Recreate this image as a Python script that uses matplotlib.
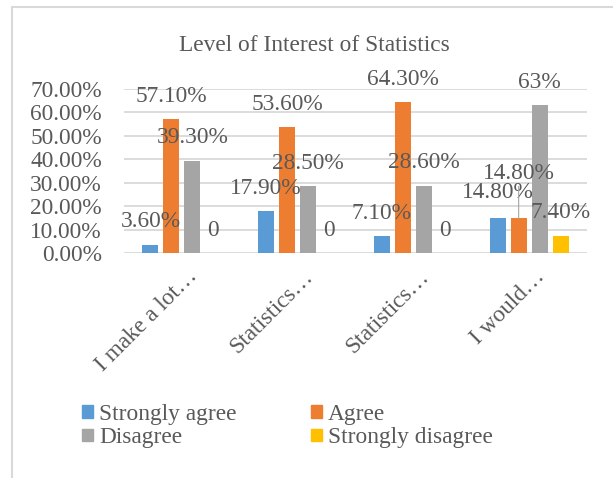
import numpy as np
import matplotlib
matplotlib.use('Agg')
from matplotlib import pyplot as plt
from matplotlib.lines import Line2D
from matplotlib.patches import Patch
from matplotlib.ticker import FuncFormatter
from matplotlib.transforms import ScaledTranslation

plt.rcParams.update({'font.family': ['Liberation Serif', 'DejaVu Serif'], 'font.size': 16.8})

TEXT = '#595959'

categories = ["I make a lot\u2026", "Statistics\u2026", "Statistics\u2026", "I would\u2026"]
series = ["Strongly agree", "Agree", "Disagree", "Strongly disagree"]
strongly_agree = [3.6, 17.9, 7.1, 14.8]
agree = [57.1, 53.6, 64.3, 14.8]
disagree = [39.3, 28.5, 28.6, 63.0]
strongly_disagree = [0, 0, 0, 7.4]
sa_labels = ["3.60%", "17.90%", "7.10%", "14.80%"]
a_labels = ["57.10%", "53.60%", "64.30%", "14.80%"]
d_labels = ["39.30%", "28.50%", "28.60%", "63%"]
sd_labels = ["0", "0", "0", "7.40%"]
colors = ['#5B9BD5', '#ED7D31', '#A5A5A5', '#FFC000']

values = [strongly_agree, agree, disagree, strongly_disagree]
value_labels = [sa_labels, a_labels, d_labels, sd_labels]

fig = plt.figure(figsize=(6.13, 4.78), dpi=100)
ax = fig.add_axes([124 / 613, 1 - 253 / 478, 463 / 613, 164 / 478])

x = np.arange(len(categories))
width = 0.138
step = 0.181
for i, (vals, labs) in enumerate(zip(values, value_labels)):
    pos = x + (i - 1.5) * step
    ax.bar(pos, vals, width=width, color=colors[i], zorder=3)
    for j, (p, v, lab) in enumerate(zip(pos, vals, labs)):
        off = 9
        arrow = None
        if j == 3 and i == 0:
            off = 11
        if j == 3 and i == 1:
            # label pushed up by Excel, with leader line
            off = 25
            arrow = dict(arrowstyle='-', color='#A6A6A6', lw=0.8, shrinkA=0, shrinkB=0)
        ax.annotate(lab, xy=(p, v), xytext=(0, off), textcoords='offset points',
                    ha='center', va='bottom', color=TEXT, arrowprops=arrow, zorder=4)

ax.set_xlim(-0.5, 3.5)
ax.set_ylim(0, 70)
ax.set_yticks(np.arange(0, 71, 10))
ax.yaxis.set_major_formatter(FuncFormatter(lambda v, p: "%.2f%%" % v))
ax.grid(True, axis='y', color='#D9D9D9', lw=1.3, zorder=0)
ax.set_axisbelow(True)
for s in ax.spines.values():
    s.set_visible(False)
ax.tick_params(length=0, colors=TEXT, labelsize=16.8)
ax.tick_params(axis='y', pad=16)
ax.tick_params(axis='x', pad=2)
ax.set_xticks(x)
ax.set_xticklabels(categories, rotation=45, ha='right', va='top', rotation_mode='anchor')
shift = ScaledTranslation(5 / 100, -10 / 100, fig.dpi_scale_trans)
for t in ax.get_xticklabels():
    t.set_transform(t.get_transform() + shift)

fig.text(314.6 / 613, 1 - 50.7 / 478, "Level of Interest of Statistics", ha='center', va='baseline',
         color=TEXT, fontsize=16.8)

handles = [Patch(color=c) for c in colors]
order = [0, 2, 1, 3]
fig.legend([handles[k] for k in order], [series[k] for k in order], ncol=2, frameon=False,
           loc='upper left', bbox_to_anchor=(82 / 613, 1 - 404 / 478), borderpad=0, borderaxespad=0,
           handlelength=0.47, handleheight=0.47, handletextpad=0.26, columnspacing=3.2,
           labelspacing=0.1, labelcolor=TEXT)

# chart area border (only left and top visible in the crop)
fig.add_artist(Line2D([12 / 613, 12 / 613], [0, 1 - 7.3 / 478], color='#D9D9D9', lw=1.5))
fig.add_artist(Line2D([12 / 613, 1], [1 - 7.3 / 478, 1 - 7.3 / 478], color='#D9D9D9', lw=1.5))

fig.savefig('out.png', dpi=100)
